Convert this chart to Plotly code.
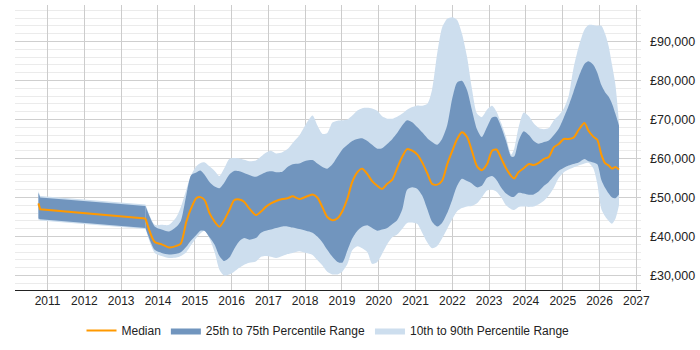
import plotly.graph_objects as go

years = [2010.75, 2010.80, 2013.66, 2013.91, 2014.10, 2014.30, 2014.50, 2014.62, 2014.77, 2014.90,
         2015.04, 2015.15, 2015.27, 2015.40, 2015.54, 2015.67, 2015.80, 2015.94, 2016.07, 2016.21,
         2016.34, 2016.48, 2016.66, 2016.80, 2016.93, 2017.07, 2017.21, 2017.38, 2017.52, 2017.66,
         2017.84, 2018.02, 2018.20, 2018.33, 2018.47, 2018.60, 2018.74, 2018.88, 2019.01, 2019.15,
         2019.28, 2019.42, 2019.55, 2019.69, 2019.82, 2019.96, 2020.09, 2020.23, 2020.37, 2020.50,
         2020.64, 2020.77, 2020.91, 2021.05, 2021.18, 2021.32, 2021.45, 2021.59, 2021.72, 2021.86,
         2022.00, 2022.13, 2022.26, 2022.40, 2022.53, 2022.67, 2022.80, 2022.94, 2023.08, 2023.20,
         2023.33, 2023.46, 2023.60, 2023.68, 2023.80, 2023.94, 2024.08, 2024.21, 2024.35, 2024.49,
         2024.62, 2024.76, 2024.89, 2025.03, 2025.16, 2025.29, 2025.43, 2025.59, 2025.70, 2025.83,
         2025.94, 2026.05, 2026.15, 2026.25, 2026.34, 2026.43, 2026.53]

median = [48.5, 47.0, 44.6, 38.6, 38.0, 37.2, 37.6, 38.2, 43.8, 47.2,
          49.8, 50.1, 49.3, 46.0, 43.8, 42.5, 44.2, 46.8, 49.3, 49.5,
          48.9, 47.2, 45.5, 46.4, 47.6, 48.5, 49.1, 49.6, 49.8, 50.3,
          49.6, 50.2, 50.8, 50.0, 47.5, 45.0, 44.2, 44.7, 46.5, 49.8,
          54.0, 56.5, 57.4, 56.0, 54.2, 53.0, 52.2, 53.5, 54.6, 57.5,
          60.5, 62.4, 62.0, 61.0, 59.0, 56.2, 53.5, 53.3, 54.3, 58.5,
          62.0, 65.0, 66.7, 65.5, 62.0, 58.0, 57.0, 58.5, 62.0, 62.3,
          60.0, 57.5, 55.5, 54.9, 56.5, 57.5, 58.6, 58.3, 58.9, 59.9,
          60.4, 62.9, 63.7, 65.0, 65.0, 65.3, 67.3, 69.1, 67.1, 65.6,
          64.8, 61.0, 58.8, 58.2, 57.4, 57.8, 57.2]

p75 = [51.2, 50.0, 47.8, 42.6, 41.8, 41.3, 42.5, 44.0, 50.6, 55.7,
       56.4, 56.9, 55.8, 54.0, 52.8, 52.4, 53.8, 55.9, 56.8, 56.7,
       56.3, 55.8, 55.3, 55.9, 56.5, 56.7, 56.5, 56.6, 57.8, 58.5,
       58.7, 59.4, 59.6, 58.7, 57.8, 57.4, 58.5, 60.5, 62.3, 63.5,
       64.5, 65.0, 65.2, 64.5, 63.5, 62.5, 62.6, 63.7, 65.0, 66.5,
       68.5, 69.8, 69.3, 68.0, 66.7, 65.2, 64.2, 63.5, 65.0, 68.5,
       75.5, 79.5, 79.9, 77.5, 72.5, 67.5, 65.5, 68.0, 70.5, 70.6,
       68.0, 64.5, 60.5, 60.5, 64.5, 67.0, 66.0, 64.5, 63.8, 64.2,
       64.6, 66.0, 67.6, 70.5, 73.5, 77.0, 80.8, 84.2, 84.9, 84.0,
       82.0, 78.8, 77.0, 75.8, 74.0, 71.5, 68.4]

p25 = [44.6, 44.4, 42.2, 36.6, 35.8, 35.4, 35.6, 36.0, 37.4, 39.0,
       40.4, 41.5, 41.4, 39.8, 37.9, 35.0, 33.7, 34.6, 36.8, 38.8,
       39.6, 39.2, 39.6, 41.0, 41.5, 41.8, 42.2, 42.6, 42.6, 42.3,
       41.9, 41.5, 41.0, 40.0, 38.5, 36.6, 34.8, 33.5, 33.3, 36.5,
       39.5, 41.5, 42.5, 42.9, 42.2, 41.5, 41.8, 42.2, 43.2, 44.2,
       47.0, 52.0, 52.6, 52.2, 50.5, 47.0, 43.8, 42.6, 43.5, 46.0,
       49.5, 53.0, 54.8, 54.2, 53.6, 52.6, 53.0, 55.0, 55.5, 54.5,
       52.5, 51.0, 50.2, 50.2, 51.2, 51.0, 50.7, 50.8, 51.6, 53.0,
       54.0, 55.5, 56.8, 57.6, 58.2, 58.6, 59.0, 59.9, 59.3, 59.0,
       58.5, 54.5, 52.5, 51.0, 50.0, 49.8, 50.8]

p90 = [51.6, 50.4, 48.2, 43.0, 43.0, 43.0, 45.0, 47.5, 52.0, 55.7,
       58.0, 58.8, 59.0, 58.0, 56.8, 55.5, 57.5, 59.9, 60.1, 60.0,
       59.7, 59.3, 59.5, 60.5, 61.5, 62.0, 61.3, 61.6, 62.4, 64.0,
       65.9, 68.8, 71.0, 68.5, 66.3, 66.5, 69.2, 69.7, 69.8, 70.0,
       71.0, 72.3, 72.9, 73.0, 72.8, 72.2, 70.8, 70.2, 70.2, 70.7,
       71.5, 72.5, 73.2, 73.6, 73.5, 74.0, 77.7, 87.0, 93.5, 95.8,
       96.2, 95.5, 92.0, 86.0, 78.0, 71.5, 70.6, 72.5, 73.5, 72.0,
       69.0, 65.5, 61.0, 62.5, 68.0, 71.8, 70.8, 69.0, 67.8, 67.5,
       67.8, 69.8, 71.0, 72.8, 76.0, 83.0, 88.5, 93.0, 94.2, 94.2,
       94.0, 94.0, 92.0, 88.7, 84.0, 79.0, 69.0]

p10 = [44.3, 44.1, 41.9, 35.8, 35.0, 34.5, 34.6, 35.0, 36.0, 37.8,
       39.6, 40.8, 41.5, 39.5, 36.0, 31.5, 30.0, 30.3, 31.0, 32.0,
       32.8, 33.3, 33.6, 34.8, 35.0, 34.8, 34.5, 35.0, 35.5, 35.8,
       36.2, 35.8, 35.3, 34.0, 32.6, 31.0, 30.3, 30.3, 31.0, 33.0,
       36.5, 37.5, 37.0, 36.0, 33.0, 33.5, 35.5, 38.0, 39.8, 40.5,
       42.0, 43.5, 43.6, 43.2, 41.0, 38.5, 37.0, 37.6, 39.5, 42.0,
       44.5, 46.5, 47.3, 47.7, 47.8, 48.5, 50.0, 51.8, 52.0, 51.5,
       50.0, 48.0, 47.0, 46.8, 47.6, 47.7, 47.6, 47.7, 48.3, 49.2,
       50.5, 52.5, 55.0, 56.5, 57.2, 57.7, 58.2, 58.7, 58.9, 57.5,
       53.5, 47.0, 45.2, 44.0, 43.3, 44.5, 48.0]

tick_years = list(range(2011, 2028))
y_ticks = [30000, 40000, 50000, 60000, 70000, 80000, 90000]
y_tick_labels = ["£30,000", "£40,000", "£50,000", "£60,000", "£70,000", "£80,000", "£90,000"]

# the early period (sparse data) is drawn with straight segments, the rest smoothed
SPLIT = 2  # index of 2013.66, shared by both pieces

LIGHT = "#CDDEEE"
DARK = "#7195BE"
ORANGE = "#FF9900"
FONT = "Liberation Sans, Arial, sans-serif"
SM = 0.7


def piece(v, part):
    vals = [x * 1000 for x in v]
    if part == 0:
        return years[:SPLIT + 1], vals[:SPLIT + 1]
    return years[SPLIT:], vals[SPLIT:]


def shape(part):
    return dict(shape="linear") if part == 0 else dict(shape="spline", smoothing=SM)


fig = go.Figure()

for lo, hi, col, name, rank in [(p10, p90, LIGHT, "10th to 90th Percentile Range", 3),
                                (p25, p75, DARK, "25th to 75th Percentile Range", 2)]:
    for part in (0, 1):
        xl, yl = piece(lo, part)
        xh, yh = piece(hi, part)
        fig.add_trace(go.Scatter(x=xl, y=yl, mode="lines",
                                 line=dict(width=0, color=col, **shape(part)),
                                 showlegend=False, hoverinfo="skip", legendgroup=name))
        fig.add_trace(go.Scatter(x=xh, y=yh, mode="lines",
                                 line=dict(width=0, color=col, **shape(part)),
                                 fill="tonexty", fillcolor=col, name=name,
                                 legendgroup=name, legendrank=rank,
                                 showlegend=(part == 1)))

for part in (0, 1):
    xm, ym = piece(median, part)
    fig.add_trace(go.Scatter(x=xm, y=ym, mode="lines",
                             line=dict(width=2, color=ORANGE, **shape(part)),
                             name="Median", legendgroup="Median", legendrank=1,
                             showlegend=(part == 1)))

fig.update_layout(
    width=700, height=350,
    margin=dict(l=15, r=57, t=5, b=58),
    paper_bgcolor="white", plot_bgcolor="white",
    font=dict(family=FONT, size=12, color="#222"),
    legend=dict(orientation="h", x=0.5, xanchor="center", y=-0.142, yanchor="middle",
                font=dict(size=12, color="#222"), itemwidth=30, traceorder="normal"),
    xaxis=dict(range=[2010.114, 2027.127], tickvals=tick_years,
               ticktext=[str(t) for t in tick_years], showgrid=True, gridcolor="#cccccc",
               gridwidth=1, zeroline=False, showline=True, linecolor="#222", linewidth=1,
               ticks="", tickfont=dict(size=12, color="#222")),
    yaxis=dict(range=[26300, 99330], side="right", tickvals=y_ticks, ticktext=y_tick_labels,
               showgrid=True, gridcolor="#cfcfcf", zeroline=False,
               showline=False, ticks="", ticklabelstandoff=8,
               tickfont=dict(size=12.5, color="#222"),
               minor=dict(dtick=2000, tick0=0, showgrid=True, gridcolor="#ebebeb")),
)

fig.write_html("out.html", include_plotlyjs=True)
